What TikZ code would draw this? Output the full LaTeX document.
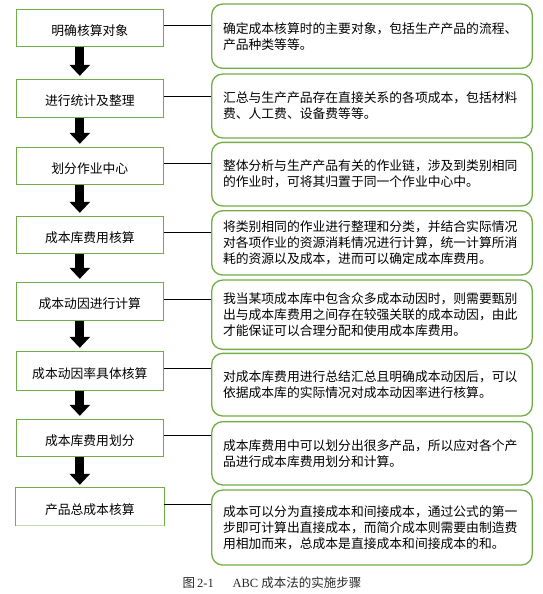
\documentclass[tikz,border=0pt]{standalone}
\usepackage{fontspec}
\setmainfont{Liberation Serif}
\newfontfamily\cjk{Noto Sans CJK SC}
\usetikzlibrary{arrows.meta}
\definecolor{boxgreen}{RGB}{112,173,71}
\definecolor{palegreen}{RGB}{196,220,178}
\definecolor{captiongray}{RGB}{40,40,40}
\begin{document}
\begin{tikzpicture}[x=1pt,y=-1pt,
  leftbox/.style={draw=boxgreen, line width=0.9pt, minimum width=147.7pt, inner sep=0pt,
    font=\cjk\fontsize{12.8}{16}\selectfont, text height=15pt, text depth=0pt},
  rightbox/.style={draw=boxgreen, line width=1.3pt, rounded corners=11pt, text width=298pt,
    inner xsep=11.3pt, inner ysep=0pt, align=left, font=\cjk\fontsize{12.8}{16}\selectfont},
  conn/.style={draw=black, line width=0.8pt},
  downarrow/.style={draw=black, line width=9pt, -{Triangle[width=20pt,length=11pt]}},
]
\useasboundingbox (0,0) rectangle (542,594);

% left step boxes
\node[leftbox, minimum height=37pt] (l1) at (89.8,27.8) {明确核算对象};
\node[leftbox, minimum height=38pt] (l2) at (89.8,98.3) {进行统计及整理};
\node[leftbox, minimum height=37pt] (l3) at (89.8,165.8) {划分作业中心};
\node[leftbox, minimum height=37pt] (l4) at (89.8,234.8) {成本库费用核算};
\node[leftbox, minimum height=38pt] (l5) at (89.8,301.3) {成本动因进行计算};
\node[leftbox, minimum height=39pt] (l6) at (89.8,370.8) {成本动因率具体核算};
\node[leftbox, minimum height=37pt] (l7) at (89.8,437.8) {成本库费用划分};
\node[leftbox, draw=none, minimum height=37pt] (l8) at (89.8,506.8) {产品总成本核算};
\draw[boxgreen, line width=0.9pt] (l8.south west) -- (l8.north west) -- (l8.north east) -- (l8.south east);
\draw[palegreen, line width=0.9pt] (l8.south west) -- (l8.south east);

% right description boxes
\node[rightbox, minimum height=64.3pt] (r1) at (372,36.2) {确定成本核算时的主要对象，包括生产产品的流程、\\产品种类等等。};
\node[rightbox, minimum height=64pt] (r2) at (372,106) {汇总与生产产品存在直接关系的各项成本，包括材料\\费、人工费、设备费等等。};
\node[rightbox, minimum height=63.7pt] (r3) at (372,174.2) {整体分析与生产产品有关的作业链，涉及到类别相同\\的作业时，可将其归置于同一个作业中心中。};
\node[rightbox, minimum height=64.3pt] (r4) at (372,242.9) {将类别相同的作业进行整理和分类，并结合实际情况\\对各项作业的资源消耗情况进行计算，统一计算所消\\耗的资源以及成本，进而可以确定成本库费用。};
\node[rightbox, minimum height=69.3pt] (r5) at (372,314.7) {我当某项成本库中包含众多成本动因时，则需要甄别\\出与成本库费用之间存在较强关联的成本动因，由此\\才能保证可以合理分配和使用成本库费用。};
\node[rightbox, minimum height=62.7pt] (r6) at (372,384.7) {对成本库费用进行总结汇总且明确成本动因后，可以\\依据成本库的实际情况对成本动因率进行核算。};
\node[rightbox, minimum height=63.3pt] (r7) at (372,453.3) {成本库费用中可以划分出很多产品，所以应对各个产\\品进行成本库费用划分和计算。};
\node[rightbox, minimum height=75pt] (r8) at (372,527.5) {成本可以分为直接成本和间接成本，通过公式的第一\\步即可计算出直接成本，而简介成本则需要由制造费\\用相加而来，总成本是直接成本和间接成本的和。};

% connectors
\foreach \i in {1,...,8}{
  \draw[conn] ([yshift=2pt]l\i.east) -- ([yshift=2pt]l\i.east -| r\i.west);
}

% block arrows
\foreach \i/\j in {1/2,2/3,3/4,4/5,5/6,6/7,7/8}{
  \draw[downarrow] ([xshift=-10pt]l\i.south) -- ([xshift=-10pt,yshift=3pt]l\j.north);
}

% caption
\node[text=captiongray, font=\fontsize{12.5}{14}\selectfont] (cap) at (272,583)
  {{\cjk 图}\,2-1\hspace{1.5em}ABC {\cjk 成本法的实施步骤}};
\end{tikzpicture}
\end{document}
